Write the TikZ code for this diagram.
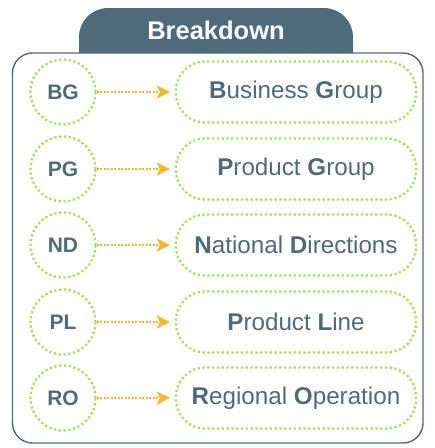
\documentclass[tikz,border=0pt]{standalone}
\usepackage{fontspec}
\setmainfont{Liberation Sans}
\usetikzlibrary{arrows.meta}
\definecolor{slate}{HTML}{4E6A7B}
\definecolor{dotgreen}{HTML}{A2E352}
\definecolor{dotorange}{HTML}{FAB627}
\tikzset{
  abbr/.style={circle, draw=dotgreen, line width=2.3pt, dash pattern=on 2.2pt off 2.6pt,
    minimum size=65pt, inner sep=0pt, text=slate, font=\fontsize{21}{25}\selectfont\bfseries},
  item/.style={rectangle, rounded corners=29pt, draw=dotgreen, line width=2.3pt, dash pattern=on 2.2pt off 2.6pt,
    minimum width=240pt, minimum height=61pt, inner sep=0pt, text=slate, font=\fontsize{24.2}{29}\selectfont},
  arr/.style={draw=dotorange, line width=2.3pt, dash pattern=on 2.2pt off 1.3pt,
    -{Stealth[length=13pt,width=13pt,inset=3pt,sep=0pt]}, shorten >=5pt},
}
\begin{document}
\begin{tikzpicture}[x=1pt,y=-1pt]
\useasboundingbox (0,0) rectangle (435,448);
% header tab
\fill[slate, rounded corners=29pt] (79,53) -- (79,8) -- (353,8) [sharp corners] -- (353,53) -- cycle;
\node[text=white, font=\fontsize{25.5}{30}\selectfont\bfseries] (title) at (216,30) {Breakdown};
% main box
\draw[slate, line width=1.4pt, rounded corners=20pt] (12.5,53) rectangle (423,443);
% rows
\foreach \i/\y/\ab/\lab in {1/92/BG/{\textbf{B}usiness \textbf{G}roup},
                            2/169/PG/{\textbf{P}roduct \textbf{G}roup},
                            3/245/ND/{\textbf{N}ational \textbf{D}irections},
                            4/322/PL/{\textbf{P}roduct \textbf{L}ine},
                            5/398/RO/{\textbf{R}egional \textbf{O}peration}} {
  \node[abbr] (c\i) at (63,\y) {\ab};
  \node[item] (r\i) at (296,\y) {\lab};
  \draw[arr] (c\i) -- (r\i);
}
\end{tikzpicture}
\end{document}
